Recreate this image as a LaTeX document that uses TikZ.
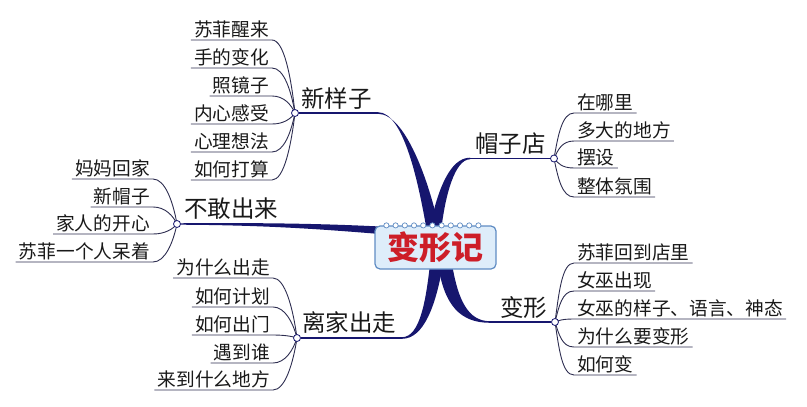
\documentclass[tikz,border=0pt]{standalone}
\usepackage{fontspec}
\newfontfamily\cjk{Noto Sans CJK SC}
\usetikzlibrary{calc}
\pgfdeclarelayer{bg}
\pgfsetlayers{bg,main}
\definecolor{navy}{RGB}{22,22,110}
\definecolor{subc}{RGB}{45,45,80}
\definecolor{boxfill}{RGB}{222,237,250}
\definecolor{boxdraw}{RGB}{95,140,195}
\definecolor{rootred}{RGB}{205,30,40}
\tikzset{
  leaf/.style={font=\cjk\fontsize{18.7}{21}\selectfont, inner xsep=3pt, inner ysep=1.5pt, text=black!90},
  mlabel/.style={font=\cjk\fontsize{23.5}{26}\selectfont, inner sep=0pt, text=black!90},
  knot/.style={circle, draw=navy, fill=white, line width=0.8pt, minimum size=7pt, inner sep=0pt},
  sub/.style={draw=subc, line width=0.9pt},
  mainline/.style={draw=navy, line width=1.6pt},
  taper/.style={fill=navy},
  rootbox/.style={rectangle, rounded corners=5pt, draw=boxdraw, line width=1.2pt, fill=boxfill,
    minimum width=121pt, minimum height=43pt, inner sep=0pt,
    font=\cjk\bfseries\fontsize{32}{34}\selectfont, text=rootred},
}
\newcommand\connL[2]{\draw[sub] let \p1=(#1.south east), \p2=(#2) in (#1.south west) -- (\p1) .. controls (\x1+12pt,\y1) and (\x2-4pt,{0.5*\y1+0.5*\y2}) .. (\p2);}
\newcommand\connR[2]{\draw[sub] let \p1=(#1.south west), \p2=(#2) in (#1.south east) -- (\p1) .. controls (\x1-12pt,\y1) and (\x2+4pt,{0.5*\y1+0.5*\y2}) .. (\p2);}
\begin{document}
\begin{tikzpicture}[x=1pt,y=-1pt]
\useasboundingbox (0,0) rectangle (807,407);

% root
\node[rootbox] (root) at (435.5,247.5) {变形记};
\foreach \i in {0,...,10}
  \draw[boxdraw, fill=white, line width=0.7pt] ($(root.north west)+(12+9.2*\i,0)$) circle (2.6pt);

% knots
\node[knot] (c1) at (295,113) {};
\node[knot] (c2) at (554,158.5) {};
\node[knot] (c3) at (177,224) {};
\node[knot] (c4) at (297,338) {};
\node[knot] (c5) at (555,322) {};

% main labels
\node[mlabel, anchor=south west] (m1) at (301,110) {新样子};
\node[mlabel, anchor=south west] (m2) at (475,155) {帽子店};
\node[mlabel, anchor=south west] (m3) at (184,220) {不敢出来};
\node[mlabel, anchor=south west] (m4) at (302,334) {离家出走};
\node[mlabel, anchor=south west] (m5) at (500,319) {变形};

% leaves group 1
\node[leaf, anchor=south east] (l11) at (272,40) {苏菲醒来};
\node[leaf, anchor=south east] (l12) at (272,68) {手的变化};
\node[leaf, anchor=south east] (l13) at (272,96) {照镜子};
\node[leaf, anchor=south east] (l14) at (272,124) {内心感受};
\node[leaf, anchor=south east] (l15) at (272,152) {心理想法};
\node[leaf, anchor=south east] (l16) at (272,180) {如何打算};
% group 2
\node[leaf, anchor=south west] (l21) at (574,113) {在哪里};
\node[leaf, anchor=south west] (l22) at (574,141) {多大的地方};
\node[leaf, anchor=south west] (l23) at (574,168) {摆设};
\node[leaf, anchor=south west] (l24) at (574,197) {整体氛围};
% group 3
\node[leaf, anchor=south east] (l31) at (153,179) {妈妈回家};
\node[leaf, anchor=south east] (l32) at (153,207) {新帽子};
\node[leaf, anchor=south east] (l33) at (153,234) {家人的开心};
\node[leaf, anchor=south east] (l34) at (153,262) {苏菲一个人呆着};
% group 4
\node[leaf, anchor=south east] (l41) at (273,278) {为什么出走};
\node[leaf, anchor=south east] (l42) at (273,307) {如何计划};
\node[leaf, anchor=south east] (l43) at (273,335) {如何出门};
\node[leaf, anchor=south east] (l44) at (273,363) {遇到谁};
\node[leaf, anchor=south east] (l45) at (273,390) {来到什么地方};
% group 5
\node[leaf, anchor=south west] (l51) at (574,263) {苏菲回到店里};
\node[leaf, anchor=south west] (l52) at (574,291) {女巫出现};
\node[leaf, anchor=south west] (l53) at (574,319) {女巫的样子、语言、神态};
\node[leaf, anchor=south west] (l54) at (574,347) {为什么要变形};
\node[leaf, anchor=south west] (l55) at (574,375) {如何变};

\coordinate (b1) at (378,113);
\coordinate (b2) at (470,158.5);
\coordinate (b4) at (402,338);
\coordinate (b5) at (490,322);

\begin{pgfonlayer}{bg}
  % main branches
  \draw[mainline] (c1) -- (b1);
  \draw[mainline] (b2) -- (c2);
  \draw[mainline] (c4) -- (b4);
  \draw[mainline] (b5) -- (c5);
  \fill[taper] (378,112.2) .. controls (404,112.2) and (419,185) .. (427,232) -- (440,232) .. controls (429,180) and (405,113.8) .. (378,113.8) -- cycle;
  \fill[taper] (470,157.7) .. controls (450,157.7) and (437,190) .. (429,232) -- (441,232) .. controls (445,195) and (455,159.3) .. (470,159.3) -- cycle;
  \fill[taper] (177,223.3) .. controls (270,222.5) and (330,224) .. (380,226.5) -- (380,234) .. controls (330,230) and (270,225) .. (177,224.7) -- cycle;
  \fill[taper] (402,337.2) .. controls (420,337.2) and (426,300) .. (430,264) -- (443,264) .. controls (436,305) and (424,338.8) .. (402,338.8) -- cycle;
  \fill[taper] (438,264) .. controls (444,305) and (460,322.8) .. (490,322.8) -- (490,321.2) .. controls (468,321.2) and (458,300) .. (452,264) -- cycle;
  % leaf connectors
  \foreach \l in {l11,l12,l13,l14,l15,l16} {\connL{\l}{c1}}
  \foreach \l in {l21,l22,l23,l24} {\connR{\l}{c2}}
  \foreach \l in {l31,l32,l33,l34} {\connL{\l}{c3}}
  \foreach \l in {l41,l42,l43,l44,l45} {\connL{\l}{c4}}
  \foreach \l in {l51,l52,l53,l54,l55} {\connR{\l}{c5}}
\end{pgfonlayer}
\end{tikzpicture}
\end{document}
